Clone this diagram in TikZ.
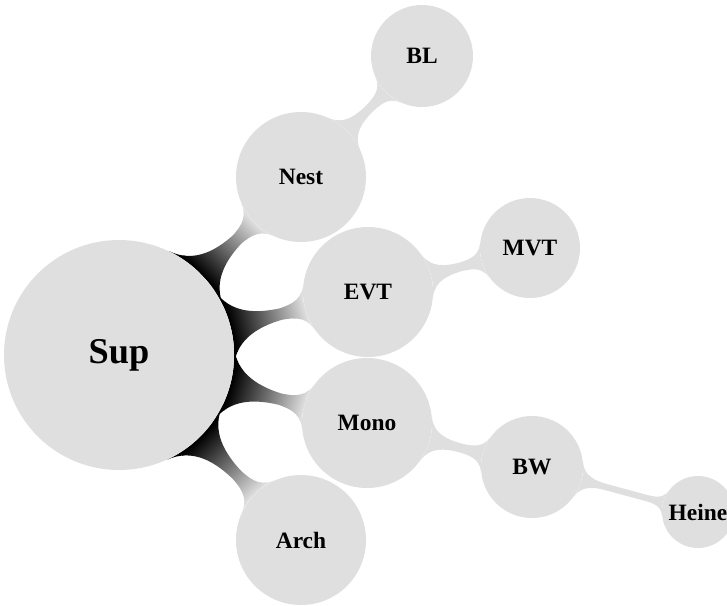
\documentclass[tikz,border=0pt]{standalone}
\usepackage{fontspec}
\setmainfont{Liberation Serif}
\usetikzlibrary{mindmap,backgrounds}
\begin{document}
\begin{tikzpicture}[x=0.03cm,y=-0.03cm,
  bub/.style={circle, fill=gray!25, draw=none, text=black, inner sep=0pt,
    font=\bfseries\fontsize{20}{22}\selectfont, minimum size=#1},
  rootbub/.style={bub=#1, font=\bfseries\fontsize{31}{33}\selectfont},
  darkbar/.style={circle connection bar switch color=from (black) to (gray!25)},
  lightbar/.style={circle connection bar switch color=from (gray!25) to (gray!25), line width=6pt}]
\useasboundingbox (0,0) rectangle (727,605);
\clip (0,0) rectangle (727,605);
\node[rootbub=6.9cm] (sup) at (119,355) {Sup};
\node[bub=3.9cm] (nest) at (301,177) {Nest};
\node[bub=3.06cm] (bl) at (422,56) {BL};
\node[bub=3.9cm] (evt) at (368,292) {EVT};
\node[bub=3.0cm] (mvt) at (530,248) {MVT};
\node[bub=3.9cm] (mono) at (367,423) {Mono};
\node[bub=3.06cm] (bw) at (532,467) {BW};
\node[bub=2.16cm] (heine) at (698,512) {Heine};
\node[bub=3.9cm] (arch) at (301,540) {Arch};
\begin{pgfonlayer}{background}
\path (sup) to[darkbar] (nest);
\path (sup) to[darkbar] (evt);
\path (sup) to[darkbar] (mono);
\path (sup) to[darkbar] (arch);
\path (nest) to[lightbar] (bl);
\path (evt) to[lightbar] (mvt);
\path (mono) to[lightbar] (bw);
\path (bw) to[lightbar] (heine);
\end{pgfonlayer}
\end{tikzpicture}
\end{document}
